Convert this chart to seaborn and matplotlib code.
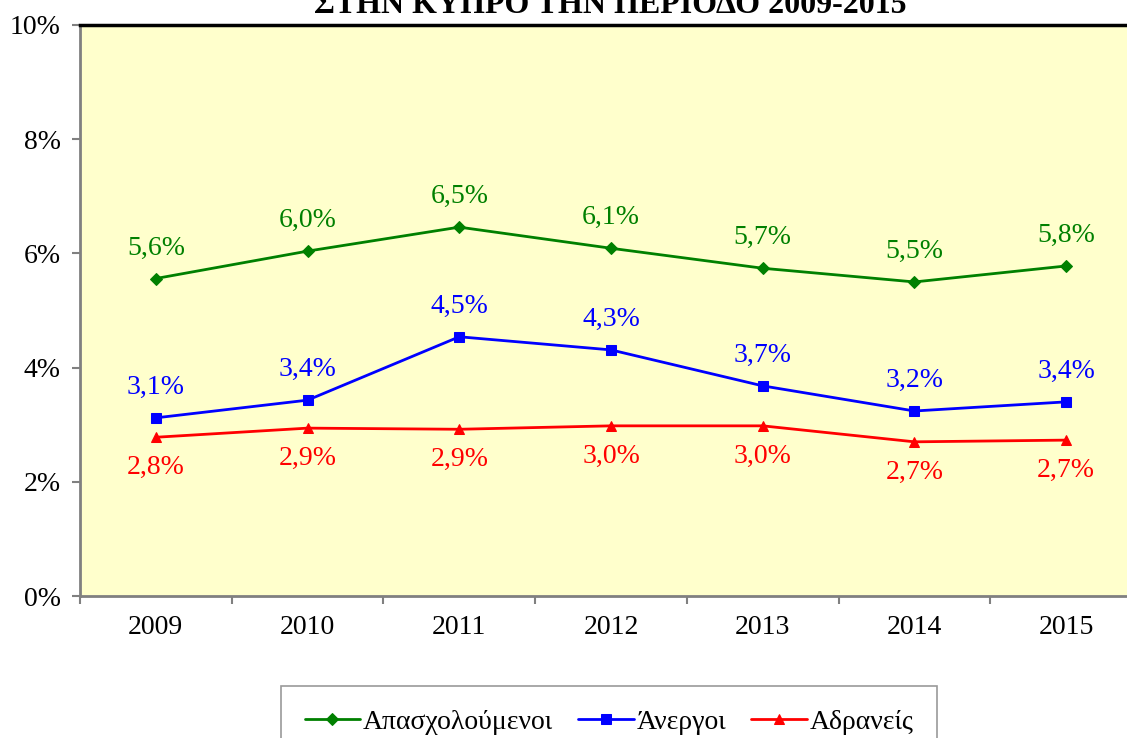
import pandas as pd
import matplotlib.pyplot as plt
import seaborn as sns

# --- dados ---
anos = ['2009', '2010', '2011', '2012', '2013', '2014', '2015']
apasxoloumenoi = [5.56, 6.04, 6.46, 6.09, 5.74, 5.50, 5.78]
anergoi = [3.12, 3.43, 4.54, 4.31, 3.68, 3.24, 3.40]
adraneis = [2.78, 2.94, 2.92, 2.98, 2.98, 2.70, 2.73]
nomes = ['Απασχολούμενοι', 'Άνεργοι', 'Αδρανείς']
titulo = 'ΣΤΗΝ ΚΥΠΡΟ ΤΗΝ ΠΕΡΙΟΔΟ 2009-2015'
y_ticks = [0, 2, 4, 6, 8, 10]

df = pd.DataFrame({
    'Έτος': anos * 3,
    'Τιμή': apasxoloumenoi + anergoi + adraneis,
    'Σειρά': [n for n in nomes for _ in anos],
})

cores = {nomes[0]: '#008000', nomes[1]: '#0000FF', nomes[2]: '#FF0000'}
marcadores = {nomes[0]: 'D', nomes[1]: 's', nomes[2]: '^'}
tamanhos = {nomes[0]: 6, nomes[1]: 7, nomes[2]: 7.5}

sns.set_theme(style='white')
plt.rcParams['font.family'] = ['Liberation Serif', 'DejaVu Serif']
plt.rcParams['text.color'] = 'black'
plt.rcParams['xtick.labelcolor'] = 'black'
plt.rcParams['ytick.labelcolor'] = 'black'

fig = plt.figure(figsize=(11.27, 7.38), dpi=100)
# area do grafico: x 80 -> 1142 px, y 25 -> 596 px
ax = fig.add_axes([80 / 1127, 1 - 596 / 738, (1142 - 80) / 1127, (596 - 25) / 738])
ax.set_facecolor('#FFFFCC')

for nome in nomes:
    sub = df[df['Σειρά'] == nome]
    sns.lineplot(data=sub, x='Έτος', y='Τιμή', ax=ax, color=cores[nome],
                 marker=marcadores[nome], markersize=tamanhos[nome],
                 markeredgecolor=cores[nome], linewidth=2, label=nome,
                 legend=False, sort=False)

# rotulos dos valores
for valores, cor, dy, va in [(apasxoloumenoi, cores[nomes[0]], 13, 'bottom'),
                             (anergoi, cores[nomes[1]], 13, 'bottom'),
                             (adraneis, cores[nomes[2]], -13, 'top')]:
    for i, v in enumerate(valores):
        ax.annotate(f'{v:.1f}%'.replace('.', ','), (i, v), xytext=(0, dy),
                    textcoords='offset points', ha='center', va=va,
                    color=cor, fontsize=20)

ax.set_xlim(-0.5, len(anos) - 0.5)
ax.set_ylim(0, 10)
ax.set_yticks(y_ticks)
ax.set_yticklabels([f'{t}%' for t in y_ticks], fontsize=20)
ax.set_xticks(range(len(anos)))
ax.set_xticklabels(anos, fontsize=20)
ax.set_xticks([i - 0.5 for i in range(len(anos) + 1)], minor=True)
ax.tick_params(axis='x', which='major', length=0, pad=14)
ax.tick_params(axis='x', which='minor', length=6, color='#808080', width=1.5,
               direction='out', bottom=True)
ax.tick_params(axis='y', length=6, color='#808080', width=1.5, direction='out',
               left=True, pad=8)
ax.set_xlabel('')
ax.set_ylabel('')
ax.grid(False)

for lado in ['left', 'bottom']:
    ax.spines[lado].set_color('#808080')
    ax.spines[lado].set_linewidth(2)
ax.spines['top'].set_color('black')
ax.spines['top'].set_linewidth(2.5)
ax.spines['right'].set_visible(False)

fig.text(610 / 1127, 1 - 13 / 738, titulo, ha='center', va='baseline',
         fontsize=23, fontweight='bold')

handles, labels = ax.get_legend_handles_labels()
leg = fig.legend(handles, labels, loc='upper center', ncol=3,
                 bbox_to_anchor=(609 / 1127, 1 - 686 / 738), fontsize=20,
                 frameon=True, fancybox=False, edgecolor='#808080',
                 handlelength=2.0, handletextpad=0.1, columnspacing=0.9,
                 borderpad=0.85, borderaxespad=0)
leg.get_frame().set_linewidth(1.2)

fig.savefig('out.png', dpi=100)
